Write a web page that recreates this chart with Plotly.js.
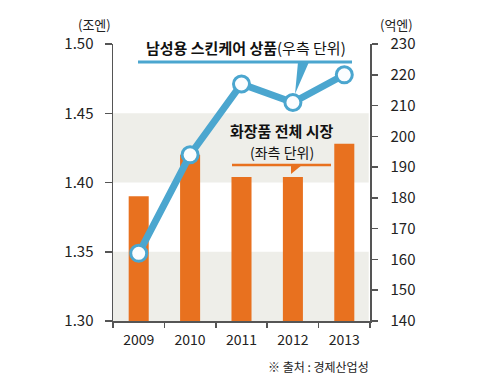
<!DOCTYPE html>
<html><head><meta charset="utf-8">
<script src="https://cdn.plot.ly/plotly-3.0.1.min.js"></script>
<style>html,body{margin:0;padding:0;background:#fff;}#chart{width:485px;height:381px;}</style>
</head><body><div id="chart"></div>
<script>
const years = ['2009','2010','2011','2012','2013'];
const marketTotal = [1.390, 1.420, 1.404, 1.404, 1.428];   // 조엔 (left)
const mensSkincare = [162, 194, 217, 211, 220];            // 억엔 (right)
const leftTicks = [1.30, 1.35, 1.40, 1.45, 1.50];
const rightTicks = [140,150,160,170,180,190,200,210,220,230];

const L = 113, R = 370, T = 44, B = 321;
const px = x => (x - L) / (R - L);
const py = y => (B - y) / (B - T);
const FONT = '"Noto Sans CJK KR", "Noto Sans", sans-serif';
const BLUE = '#4ba6cf', ORANGE = '#e8711f', GRAY = '#eeeee9', AX = '#555';

const traces = [
  {type:'bar', x: years, y: marketTotal, marker:{color: ORANGE}, width:0.39, yaxis:'y', hoverinfo:'skip'},
  {type:'scatter', mode:'lines+markers', x: years, y: mensSkincare, yaxis:'y2',
   line:{color: BLUE, width:7}, marker:{size:16, color:'#fbfdff', line:{color: BLUE, width:3}}, hoverinfo:'skip'}
];

const layout = {
  width:485, height:381, showlegend:false,
  margin:{l:L, r:485-R, t:T, b:381-B, pad:0},
  paper_bgcolor:'#fff', plot_bgcolor:'#fff',
  font:{family: FONT, color:'#222', size:14},
  xaxis:{type:'category', tickson:'boundaries', ticks:'outside', ticklen:5, tickcolor:AX, tickwidth:1.5,
    showline:true, linecolor:AX, linewidth:1.5, showgrid:false, zeroline:false,
    tickfont:{size:14, color:'#222'}, ticklabelstandoff:6},
  yaxis:{range:[1.30,1.50], tickvals:leftTicks, ticktext:leftTicks.map(v=>v.toFixed(2)), ticks:'outside', ticklen:7,
    tickcolor:AX, tickwidth:1.5, showline:true, linecolor:AX, linewidth:1.5, showgrid:false, zeroline:false,
    tickfont:{size:15, color:'#222'}, ticklabelstandoff:8, fixedrange:true},
  yaxis2:{range:[140,230], tickvals:rightTicks, overlaying:'y', side:'right', ticks:'outside', ticklen:6,
    tickcolor:AX, tickwidth:1.5, showline:true, linecolor:AX, linewidth:1.5, showgrid:false, zeroline:false,
    tickfont:{size:15, color:'#222'}, ticklabelstandoff:10},
  shapes:[
    {type:'rect', xref:'paper', yref:'y', x0:0, x1:0.995, y0:1.40, y1:1.45, fillcolor:GRAY, line:{width:0}, layer:'below'},
    {type:'rect', xref:'paper', yref:'y', x0:0, x1:0.995, y0:1.30, y1:1.35, fillcolor:GRAY, line:{width:0}, layer:'below'},
    {type:'line', xref:'paper', yref:'paper', x0:px(138), x1:px(352), y0:py(62), y1:py(62), line:{color:BLUE, width:3}},
    {type:'path', xref:'paper', yref:'paper', path:`M ${px(298)},${py(62)} L ${px(309)},${py(62)} L ${px(295)},${py(94)} Z`, fillcolor:BLUE, line:{width:0}},
    {type:'line', xref:'paper', yref:'paper', x0:px(232), x1:px(331), y0:py(165), y1:py(165), line:{color:ORANGE, width:2.5}},
    {type:'path', xref:'paper', yref:'paper', path:`M ${px(291)},${py(165)} L ${px(302)},${py(165)} L ${px(291)},${py(174)} Z`, fillcolor:ORANGE, line:{width:0}}
  ],
  annotations:[
    {xref:'paper', yref:'paper', x:px(246), y:py(48), text:'<b>남성용 스킨케어 상품</b>(우측 단위)', showarrow:false, font:{size:15, color:'#111'}, xanchor:'center', yanchor:'middle'},
    {xref:'paper', yref:'paper', x:px(282), y:py(130), text:'<b>화장품 전체 시장</b>', showarrow:false, font:{size:15, color:'#111'}, xanchor:'center', yanchor:'middle'},
    {xref:'paper', yref:'paper', x:px(282), y:py(152), text:'(좌측 단위)', showarrow:false, font:{size:14, color:'#111'}, xanchor:'center', yanchor:'middle'},
    {xref:'paper', yref:'paper', x:px(94), y:py(24), text:'(조엔)', showarrow:false, font:{size:13, color:'#222'}, xanchor:'center', yanchor:'middle'},
    {xref:'paper', yref:'paper', x:px(396), y:py(24), text:'(억엔)', showarrow:false, font:{size:13, color:'#222'}, xanchor:'center', yanchor:'middle'},
    {xref:'paper', yref:'paper', x:px(371), y:py(366), text:'※ 출처 : 경제산업성', showarrow:false, font:{size:12, color:'#222'}, xanchor:'right', yanchor:'middle'}
  ]
};
Plotly.newPlot('chart', traces, layout, {staticPlot:true, displayModeBar:false});
</script></body></html>
